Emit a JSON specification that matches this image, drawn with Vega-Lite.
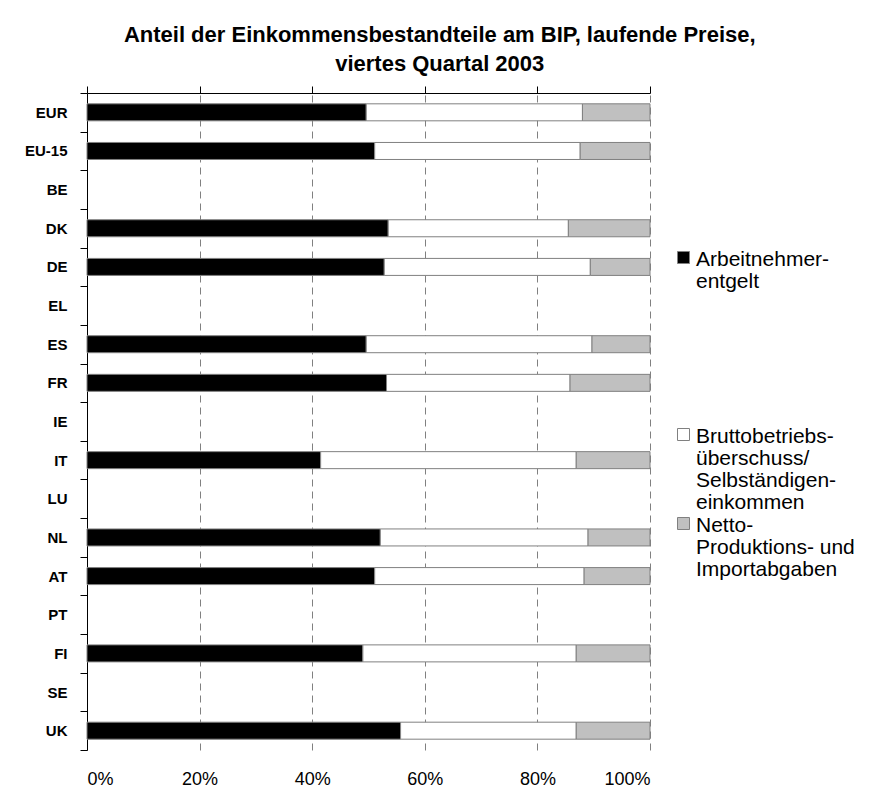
{
  "$schema": "https://vega.github.io/schema/vega-lite/v6.json",
  "autosize": {"type": "none"},
  "padding": {"top": 93, "left": 87, "right": 220, "bottom": 51},
  "width": 563,
  "height": 657,
  "background": "white",
  "title": {
    "text": ["Anteil der Einkommensbestandteile am BIP, laufende Preise,", "viertes Quartal 2003"],
    "font": "Liberation Sans",
    "fontSize": 22,
    "fontWeight": "bold",
    "color": "black",
    "lineHeight": 29,
    "anchor": "middle",
    "frame": "bounds",
    "offset": 10
  },
  "config": {
    "font": "Liberation Sans",
    "view": {"stroke": null}
  },
  "data": {
    "values": [
      {"Land": "EUR", "Komponente": "Arbeitnehmerentgelt", "Anteil": 49.6},
      {"Land": "EUR", "Komponente": "Bruttobetriebsüberschuss/Selbständigeneinkommen", "Anteil": 38.4},
      {"Land": "EUR", "Komponente": "Netto-Produktions- und Importabgaben", "Anteil": 12.0},
      {"Land": "EU-15", "Komponente": "Arbeitnehmerentgelt", "Anteil": 51.1},
      {"Land": "EU-15", "Komponente": "Bruttobetriebsüberschuss/Selbständigeneinkommen", "Anteil": 36.5},
      {"Land": "EU-15", "Komponente": "Netto-Produktions- und Importabgaben", "Anteil": 12.4},
      {"Land": "DK", "Komponente": "Arbeitnehmerentgelt", "Anteil": 53.5},
      {"Land": "DK", "Komponente": "Bruttobetriebsüberschuss/Selbständigeneinkommen", "Anteil": 32.0},
      {"Land": "DK", "Komponente": "Netto-Produktions- und Importabgaben", "Anteil": 14.5},
      {"Land": "DE", "Komponente": "Arbeitnehmerentgelt", "Anteil": 52.8},
      {"Land": "DE", "Komponente": "Bruttobetriebsüberschuss/Selbständigeneinkommen", "Anteil": 36.6},
      {"Land": "DE", "Komponente": "Netto-Produktions- und Importabgaben", "Anteil": 10.6},
      {"Land": "ES", "Komponente": "Arbeitnehmerentgelt", "Anteil": 49.6},
      {"Land": "ES", "Komponente": "Bruttobetriebsüberschuss/Selbständigeneinkommen", "Anteil": 40.1},
      {"Land": "ES", "Komponente": "Netto-Produktions- und Importabgaben", "Anteil": 10.3},
      {"Land": "FR", "Komponente": "Arbeitnehmerentgelt", "Anteil": 53.2},
      {"Land": "FR", "Komponente": "Bruttobetriebsüberschuss/Selbständigeneinkommen", "Anteil": 32.6},
      {"Land": "FR", "Komponente": "Netto-Produktions- und Importabgaben", "Anteil": 14.2},
      {"Land": "IT", "Komponente": "Arbeitnehmerentgelt", "Anteil": 41.5},
      {"Land": "IT", "Komponente": "Bruttobetriebsüberschuss/Selbständigeneinkommen", "Anteil": 45.4},
      {"Land": "IT", "Komponente": "Netto-Produktions- und Importabgaben", "Anteil": 13.1},
      {"Land": "NL", "Komponente": "Arbeitnehmerentgelt", "Anteil": 52.1},
      {"Land": "NL", "Komponente": "Bruttobetriebsüberschuss/Selbständigeneinkommen", "Anteil": 36.9},
      {"Land": "NL", "Komponente": "Netto-Produktions- und Importabgaben", "Anteil": 11.0},
      {"Land": "AT", "Komponente": "Arbeitnehmerentgelt", "Anteil": 51.1},
      {"Land": "AT", "Komponente": "Bruttobetriebsüberschuss/Selbständigeneinkommen", "Anteil": 37.2},
      {"Land": "AT", "Komponente": "Netto-Produktions- und Importabgaben", "Anteil": 11.7},
      {"Land": "FI", "Komponente": "Arbeitnehmerentgelt", "Anteil": 49.0},
      {"Land": "FI", "Komponente": "Bruttobetriebsüberschuss/Selbständigeneinkommen", "Anteil": 37.9},
      {"Land": "FI", "Komponente": "Netto-Produktions- und Importabgaben", "Anteil": 13.1},
      {"Land": "UK", "Komponente": "Arbeitnehmerentgelt", "Anteil": 55.7},
      {"Land": "UK", "Komponente": "Bruttobetriebsüberschuss/Selbständigeneinkommen", "Anteil": 31.2},
      {"Land": "UK", "Komponente": "Netto-Produktions- und Importabgaben", "Anteil": 13.1}
    ]
  },
  "encoding": {
    "y": {
      "field": "Land",
      "type": "nominal",
      "scale": {
        "domain": ["EUR", "EU-15", "BE", "DK", "DE", "EL", "ES", "FR", "IE", "IT", "LU", "NL", "AT", "PT", "FI", "SE", "UK"],
        "paddingInner": 0,
        "paddingOuter": 0
      },
      "axis": {
        "title": null,
        "tickBand": "extent",
        "tickSize": 7,
        "tickColor": "black",
        "domainColor": "black",
        "labelFontSize": 15,
        "labelFontWeight": "bold",
        "labelColor": "black",
        "labelPadding": 13,
        "grid": false
      }
    },
    "color": {
      "field": "Komponente",
      "type": "nominal",
      "scale": {
        "domain": ["Arbeitnehmerentgelt", "Bruttobetriebsüberschuss/Selbständigeneinkommen", "Netto-Produktions- und Importabgaben"],
        "range": ["#000000", "#ffffff", "#c0c0c0"]
      },
      "legend": {
        "title": null,
        "orient": "none",
        "legendX": 586,
        "legendY": 154,
        "padding": 0,
        "symbolType": "square",
        "symbolSize": 144,
        "symbolStrokeColor": "#808080",
        "symbolStrokeWidth": 1,
        "labelFontSize": 21,
        "labelColor": "black",
        "labelBaseline": "top",
        "labelOffset": 2,
        "labelLimit": 400,
        "rowPadding": 0,
        "labelExpr": "datum.label == 'Arbeitnehmerentgelt' ? ['Arbeitnehmer-', 'entgelt', ' ', ' ', ' ', ' ', ' ', ' '] : datum.label == 'Bruttobetriebsüberschuss/Selbständigeneinkommen' ? ['Bruttobetriebs-', 'überschuss/', 'Selbständigen-', 'einkommen'] : ['Netto-', 'Produktions- und', 'Importabgaben']",
        "encode": {"labels": {"update": {"lineHeight": {"value": 22}, "dy": {"value": -9}}}}
      }
    }
  },
  "layer": [
    {
      "mark": {"type": "bar", "stroke": "#808080", "strokeWidth": 1, "height": {"band": 0.44}},
      "encoding": {
        "x": {
          "field": "Anteil",
          "type": "quantitative",
          "stack": "zero",
          "scale": {"domain": [0, 100]},
          "axis": {
            "orient": "bottom",
            "title": null,
            "values": [0, 20, 40, 60, 80, 100],
            "labelExpr": "datum.value + '%'",
            "labelFontSize": 18,
            "labelColor": "black",
            "labelPadding": 20,
            "ticks": false,
            "tickSize": 0,
            "domain": false,
            "grid": true,
            "gridColor": "#808080",
            "gridDash": [7, 5],
            "gridWidth": 1
          }
        }
      }
    },
    {
      "mark": {"type": "bar", "opacity": 0, "height": {"band": 0.44}},
      "encoding": {
        "x": {
          "field": "Anteil",
          "type": "quantitative",
          "stack": "zero",
          "scale": {"domain": [0, 100]},
          "axis": {
            "orient": "top",
            "title": null,
            "values": [0, 20, 40, 60, 80, 100],
            "labels": false,
            "ticks": true,
            "tickSize": 7,
            "tickColor": "black",
            "domain": true,
            "domainColor": "black",
            "grid": false
          }
        }
      }
    }
  ],
  "resolve": {"axis": {"x": "independent"}}
}
